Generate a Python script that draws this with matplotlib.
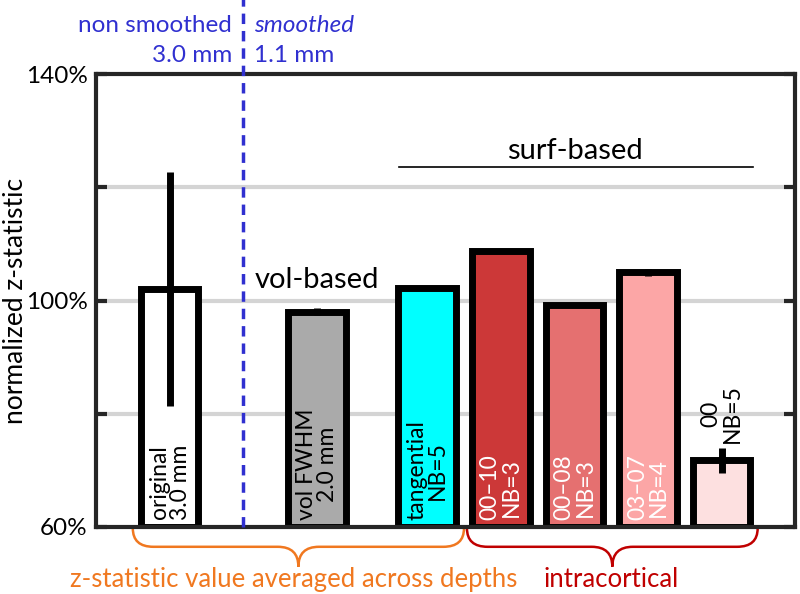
import matplotlib
matplotlib.use("Agg")
import matplotlib.pyplot as plt
import matplotlib.transforms as mtransforms
from matplotlib.path import Path
from matplotlib.patches import PathPatch

plt.rcParams["font.family"] = ["Lato", "DejaVu Sans"]

# bar data (normalized z-statistic, %)
positions = [1, 3, 4.5, 5.5, 6.5, 7.5, 8.5]
values = [102.0, 98.0, 102.2, 108.7, 99.2, 105.0, 71.8]
errors = [20.7, 0.6, 0.15, 0.15, 0.1, 0.6, 2.2]
colors = ["#ffffff", "#aaaaaa", "#00ffff", "#cc3838", "#e57070", "#fca6a6", "#fde0e0"]
labels = ["original\n3.0 mm", "vol FWHM\n2.0 mm", "tangential\nNB=5",
          "00\u201310\nNB=3", "00\u201308\nNB=3", "03\u201307\nNB=4", "00\nNB=5"]
label_colors = ["black", "black", "black", "white", "white", "white", "black"]
yticks = [60, 80, 100, 120, 140]
yticklabels = ["60%", "", "100%", "", "140%"]

BLUE = "#3030d0"
ORANGE = "#f07820"
RED = "#c00000"
SPINE = "#262626"


def brace(ax, x0, x1, color, r=0.28, ytop=-0.003, ymid=-0.044, ybot=-0.088):
    tr = mtransforms.blended_transform_factory(ax.transData, ax.transAxes)
    xm = (x0 + x1) / 2
    verts = [(x0, ytop), (x0, ymid), (x0 + r, ymid),
             (xm - r, ymid), (xm, ymid), (xm, ybot),
             (xm, ymid), (xm + r, ymid),
             (x1 - r, ymid), (x1, ymid), (x1, ytop)]
    codes = [Path.MOVETO, Path.CURVE3, Path.CURVE3,
             Path.LINETO, Path.CURVE3, Path.CURVE3,
             Path.CURVE3, Path.CURVE3,
             Path.LINETO, Path.CURVE3, Path.CURVE3]
    ax.add_patch(PathPatch(Path(verts, codes), fc="none", ec=color, lw=1.8,
                           transform=tr, clip_on=False))


def main():
    fig = plt.figure(figsize=(8, 5.94), dpi=100)
    ax = fig.add_axes([0.12, 0.113, 0.874, 0.762])

    for y in [80, 100, 120]:
        ax.axhline(y, color="#d4d4d4", lw=3, zorder=0)

    ax.bar(positions, [v - 60 for v in values], bottom=60, width=0.78,
           color=colors, edgecolor="black", linewidth=5, zorder=2)
    ax.errorbar(positions, values, yerr=errors, fmt="none", ecolor="black",
                elinewidth=5, capsize=0, zorder=3)

    for x, v, lab, c in zip(positions, values, labels, label_colors):
        ybase = 61.2 if v > 80 else v + 3.0
        ax.text(x, ybase, lab, rotation=90, ha="center", va="bottom", color=c,
                fontsize=16.5, linespacing=1.0, zorder=4)

    ax.set_xlim(0, 9.5)
    ax.set_ylim(60, 140)
    ax.set_xticks([])
    ax.set_yticks(yticks)
    ax.set_yticklabels(yticklabels, fontsize=17.5)
    ax.tick_params(axis="y", direction="in", length=8, width=3, color=SPINE,
                   right=True, pad=6)
    for s in ax.spines.values():
        s.set_linewidth(3)
        s.set_color(SPINE)
    ax.set_ylabel("normalized z-statistic", fontsize=19)
    ax.yaxis.set_label_coords(-0.097, 0.5)

    # smoothing divider
    ax.plot([2, 2], [60, 158], ls=(0, (3, 2)), color=BLUE, lw=2.5,
            clip_on=False, zorder=5)
    ax.text(1.85, 148.6, "non smoothed", ha="right", va="center",
            color=BLUE, fontsize=17.5)
    ax.text(1.85, 143.4, "3.0 mm", ha="right", va="center",
            color=BLUE, fontsize=17.5)
    ax.text(2.15, 148.6, "smoothed", ha="left", va="center", color=BLUE,
            fontsize=17.5, style="italic")
    ax.text(2.15, 143.4, "1.1 mm", ha="left", va="center", color=BLUE,
            fontsize=17.5)

    ax.text(3, 103.6, "vol-based", ha="center", va="center", fontsize=21)
    ax.text(6.5, 126.4, "surf-based", ha="center", va="center", fontsize=21)
    ax.plot([4.12, 8.93], [123.6, 123.6], color="black", lw=1.2)

    brace(ax, 0.5, 5.0, ORANGE)
    brace(ax, 5.04, 8.99, RED)
    tr = mtransforms.blended_transform_factory(ax.transData, ax.transAxes)
    ax.text(2.68, -0.133, "z-statistic value averaged across depths", transform=tr,
            ha="center", va="baseline", color=ORANGE, fontsize=18.5)
    ax.text(7.0, -0.133, "intracortical", transform=tr,
            ha="center", va="baseline", color=RED, fontsize=18.5)

    fig.savefig("out.png", dpi=100)


if __name__ == "__main__":
    main()
